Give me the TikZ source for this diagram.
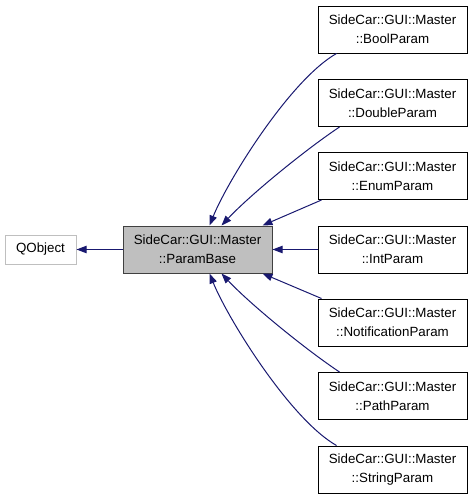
\documentclass[tikz,border=0pt]{standalone}
\usepackage{fontspec}
\setmainfont{Liberation Sans}
\definecolor{edgeblue}{HTML}{191970}
\definecolor{basegray}{HTML}{BFBFBF}
\definecolor{darkframe}{HTML}{404040}
\usetikzlibrary{arrows.meta,calc}

\begin{document}
\begin{tikzpicture}[x=0.75pt,y=-0.75pt,
    cls/.style={draw=black,line width=0.75pt,align=center,inner sep=0pt,
      minimum width=111.75pt,minimum height=35.25pt,font=\fontsize{10}{14.25}\selectfont},
    inh/.style={draw=edgeblue,line width=0.75pt,-{Triangle[length=7.5pt,width=5.5pt]}}]
  \useasboundingbox (0,0) rectangle (472,500);
  \node[cls,draw=basegray,minimum width=53.25pt,minimum height=21.75pt] (qobject) at (40.5,249.5) {QObject};
  \node[cls,draw=darkframe,fill=basegray] (base) at (197.5,249.5) {SideCar::GUI::Master\\::ParamBase};
  \node[cls] (bool) at (392.5,29.5) {SideCar::GUI::Master\\::BoolParam};
  \node[cls] (double) at (392.5,103) {SideCar::GUI::Master\\::DoubleParam};
  \node[cls] (enum) at (392.5,176) {SideCar::GUI::Master\\::EnumParam};
  \node[cls] (int) at (392.5,249.5) {SideCar::GUI::Master\\::IntParam};
  \node[cls] (note) at (392.5,322.5) {SideCar::GUI::Master\\::NotificationParam};
  \node[cls] (path) at (392.5,396) {SideCar::GUI::Master\\::PathParam};
  \node[cls] (string) at (392.5,469.5) {SideCar::GUI::Master\\::StringParam};
  \draw[inh] (base.west) -- (qobject.east);
  \draw[inh] ($(bool.south west)+(19,0)$) .. controls (290,80) and (228,180) .. ($(base.north west)+(87,0)$);
  \draw[inh] ($(double.south west)+(22,0)$) .. controls (305,150) and (250,195) .. ($(base.north west)+(99,0)$);
  \draw[inh] ($(enum.south west)+(4,0)$) -- ($(base.north east)+(-10,0)$);
  \draw[inh] (int.west) -- (base.east);
  \draw[inh] ($(note.north west)+(4,0)$) -- ($(base.south east)+(-10,0)$);
  \draw[inh] ($(path.north west)+(22,0)$) .. controls (305,349) and (250,304) .. ($(base.south west)+(99,0)$);
  \draw[inh] ($(string.north west)+(19,0)$) .. controls (290,419) and (228,319) .. ($(base.south west)+(87,0)$);
\end{tikzpicture}
\end{document}
